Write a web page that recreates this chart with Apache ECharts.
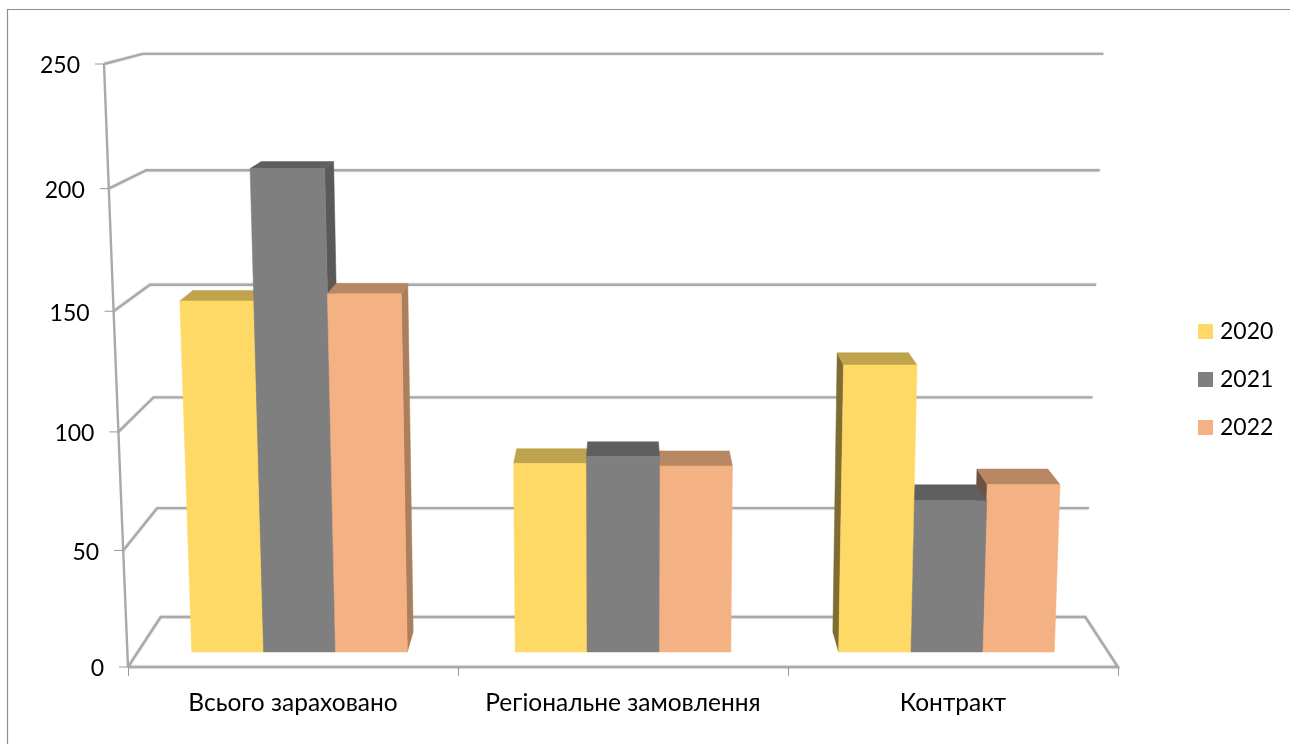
<!DOCTYPE html>
<html><head><meta charset="utf-8">
<script src="https://cdn.jsdelivr.net/npm/echarts@6/dist/echarts.min.js"></script>
<style>html,body{margin:0;padding:0;background:#fff}#c{width:1290px;height:744px}</style>
</head><body><div id="c"></div>
<script>
const categories = ['Всього зараховано', 'Регіональне замовлення', 'Контракт'];
const years = ['2020', '2021', '2022'];
const values2020 = [151, 82, 124];
const values2021 = [206, 85, 66];
const values2022 = [154, 81, 73];
const yTicks = [0, 50, 100, 150, 200, 250];
const yMax = 250;

const frontColors = ['#FFD966', '#7F7F7F', '#F4B183'];
const topColors = ['#BFA44D', '#5F5F5F', '#B78662'];
const rightColors = ['#A08A42', '#595959', '#AB7E5C'];
const leftColors = ['#7F6C33', '#3F3F3F', '#6E5341'];

const FONT = 'Lato, "Open Sans", sans-serif';
const FS_Y = 23, FS_X = 24.5, FS_L = 23;
const VY = -90, S_BACK = 0.93395, S_BAR = 0.98019, BAR_DEPTH = 0.973;
const LEAN_F = 0.0485, LEAN_B = 0.039, WARP = 0.042;
const GRID_COLOR = '#A9A9A9';

function project(api, u, v, s) {
  // u: position in category units (0 = left edge), v: value, s: depth scale
  const w = api.size([1, 0])[0];
  const c = api.coord([0, v]);
  const xc = api.coord([1, 0])[0];
  const y0 = api.coord([0, 0])[1], y1 = api.coord([0, yMax])[1];
  const t = v / yMax;
  const X = c[0] + (u - 0.5) * w;
  const lean = LEAN_F - (LEAN_F - LEAN_B) * (1 - s) / (1 - S_BACK);
  const Xf = xc + (X - xc) * (1 + lean * t);
  const Yf = c[1] + WARP * t * (1 - t) * (y0 - y1);
  return [xc + (Xf - xc) * s, VY + (Yf - VY) * s];
}

function renderWall(params, api) {
  const v = api.value(1);
  const a = project(api, 0, v, 1), b = project(api, 0, v, S_BACK), c = project(api, 3, v, S_BACK);
  const children = [];
  const pts = [a, b, c];
  if (v === 0) { pts.push(project(api, 3, 0, 1)); pts.push(a); }
  children.push({type: 'polyline', z2: 1, shape: {points: pts},
    style: {stroke: GRID_COLOR, lineWidth: 2.4, fill: null, shadowBlur: 2, shadowColor: 'rgba(0,0,0,0.2)'}});
  children.push({type: 'line', z2: 2, shape: {x1: a[0] - 9, y1: a[1], x2: a[0], y2: a[1]},
    style: {stroke: '#999', lineWidth: 1}});
  children.push({type: 'text', z2: 3, style: {text: String(v), x: a[0] - 24, y: a[1] + 2,
    align: 'right', verticalAlign: 'middle', font: FS_Y + 'px ' + FONT, fill: '#000'}});
  if (v < yMax) {
    const up = project(api, 0, v + 50, 1);
    children.push({type: 'line', z2: 2, shape: {x1: a[0], y1: a[1], x2: up[0], y2: up[1]},
      style: {stroke: GRID_COLOR, lineWidth: 2.4}});
  }
  return {type: 'group', children};
}

function barRenderer(j) {
  return function (params, api) {
    const i = api.value(0), v = api.value(1);
    const u0 = i + 1 / 6 + j * 2 / 9, u1 = u0 + 2 / 9;
    const sF = S_BAR, sB = S_BAR * BAR_DEPTH;
    const fl0 = project(api, u0, 0, sF), fr0 = project(api, u1, 0, sF);
    const fl1 = project(api, u0, v, sF), fr1 = project(api, u1, v, sF);
    const bl0 = project(api, u0, 0, sB), br0 = project(api, u1, 0, sB);
    const bl1 = project(api, u0, v, sB), br1 = project(api, u1, v, sB);
    const dist = Math.abs(i + (j + 0.5) * 2 / 9 + 1 / 6 - 1.5);
    const z = 100 - Math.round(dist * 20);
    const kids = [];
    const poly = (points, fill, dz) => kids.push({type: 'polygon', z2: z + dz, shape: {points},
      style: {fill, stroke: fill, lineWidth: 0.5}});
    if (bl1[0] < fl1[0]) poly([fl0, fl1, bl1, bl0], leftColors[j], 0);
    if (br1[0] > fr1[0]) poly([fr0, fr1, br1, br0], rightColors[j], 0);
    poly([fl1, fr1, br1, bl1], topColors[j], 0.1);
    poly([fl0, fr0, fr1, fl1], frontColors[j], 0.2);
    return {type: 'group', children: kids};
  };
}

const seriesValues = [values2020, values2021, values2022];
const chart = echarts.init(document.getElementById('c'));
chart.setOption({
  animation: false,
  backgroundColor: '#fff',
  graphic: [{type: 'polyline', shape: {points: [[7.5, 744], [7.5, 9.5], [1290, 9.5]]},
    style: {stroke: '#8C8C8C', lineWidth: 1.2, fill: null}}],
  grid: {left: 128, right: 172, top: 64, bottom: 77},
  legend: {
    data: years, orient: 'vertical', left: 1198, top: 320, padding: 0,
    itemWidth: 15, itemHeight: 15, itemGap: 25, icon: 'rect', selectedMode: false,
    textStyle: {fontFamily: FONT, fontSize: FS_L, color: '#000', padding: [0, 0, 0, 2]}
  },
  xAxis: {
    type: 'category', data: categories, boundaryGap: true,
    axisLine: {show: false},
    axisTick: {show: true, alignWithLabel: false, length: 9, lineStyle: {color: '#999', width: 1}},
    axisLabel: {margin: 24, fontFamily: FONT, fontSize: FS_X, color: '#000', interval: 0},
    splitLine: {show: false}
  },
  yAxis: {type: 'value', min: 0, max: yMax, interval: 50, show: false},
  series: [
    {type: 'custom', name: 'walls', silent: true, z: 1, renderItem: renderWall,
      data: yTicks.map(v => [0, v]), encode: {x: 0, y: 1}},
    ...years.map((y, j) => ({
      type: 'custom', name: y, silent: true, z: 2, renderItem: barRenderer(j),
      itemStyle: {color: frontColors[j]},
      data: seriesValues[j].map((v, i) => [i, v]), encode: {x: 0, y: 1}
    }))
  ]
});
</script></body></html>
